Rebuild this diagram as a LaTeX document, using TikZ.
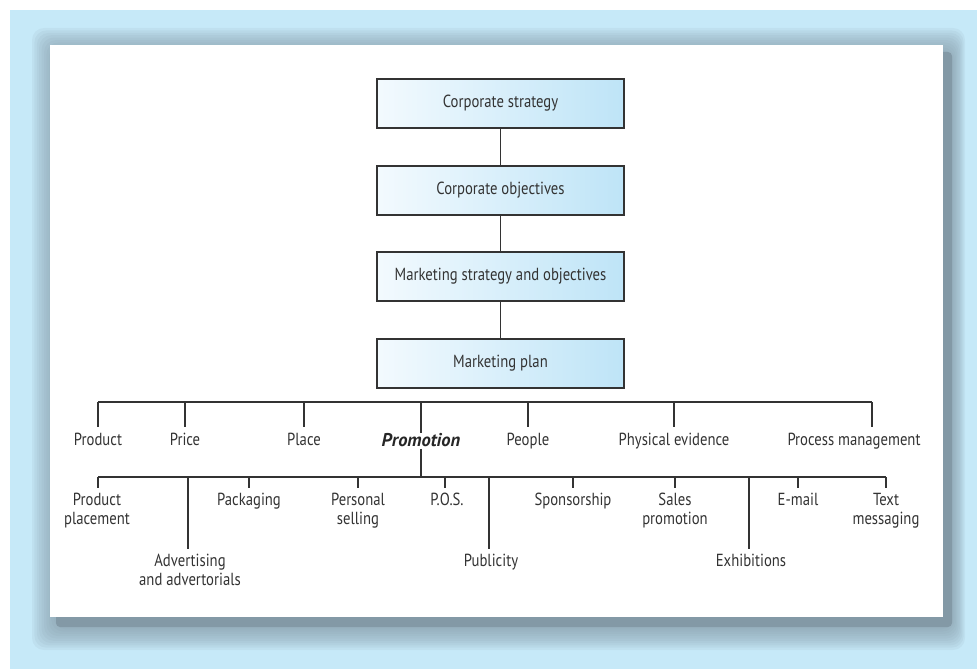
\documentclass[tikz,border=0pt]{standalone}
\usepackage{fontspec}
\setmainfont[FakeStretch=0.84]{PT Sans}
\newfontfamily\emphfont{PT Sans}
\definecolor{bgblue}{HTML}{C6E9F8}
\definecolor{shadowc}{HTML}{8399A6}
\definecolor{ink}{HTML}{333333}
\definecolor{boxleft}{HTML}{F3FAFE}
\definecolor{boxright}{HTML}{BEE4F7}

\begin{document}
\begin{tikzpicture}[x=1pt,y=-1pt,
  txt/.style={font=\fontsize{17.5}{19}\selectfont},
  every node/.style={text=ink, txt},
  stepbox/.style={draw=ink, line width=1.1pt, minimum width=247pt,
    minimum height=49pt, inner sep=0pt, left color=boxleft, right color=boxright},
  term/.style={inner sep=0pt, anchor=north, align=center},
  wire/.style={draw=ink, line width=1.1pt}]

% canvas and framed panel with its soft shadow
\useasboundingbox (0,0) rectangle (977,669);
\fill[bgblue] (10,10) rectangle (977,669);
\foreach \k in {1,...,10}
  \fill[shadowc, fill opacity=0.10, rounded corners=12pt]
    (56-2.4*\k, 52-2.4*\k) rectangle (952+1.3*\k, 627+2.3*\k);
\fill[shadowc, rounded corners=4pt] (56,52) rectangle (952,627);
\fill[white] (50,45) rectangle (943,617);

% planning hierarchy
\node[stepbox] (cs) at (500.5,103.5) {Corporate strategy};
\node[stepbox] (co) at (500.5,190.5) {Corporate objectives};
\node[stepbox] (ms) at (500.5,276.5) {Marketing strategy and objectives};
\node[stepbox] (mp) at (500.5,363.5) {Marketing plan};
\draw[wire] (cs) -- (co);
\draw[wire] (co) -- (ms);
\draw[wire] (ms) -- (mp);

% the marketing mix
\coordinate (t1) at (98,402);
\coordinate (t2) at (185,402);
\coordinate (t3) at (304,402);
\coordinate (t4) at (421,402);
\coordinate (t5) at (528,402);
\coordinate (t6) at (674,402);
\coordinate (t7) at (872,402);
\draw[wire] (t1) -- (t7);

\node[term] (product) at (98,433) {Product};
\node[term] (price) at (185,433) {Price};
\node[term] (place) at (304,433) {Place};
\node[term, font={\emphfont\fontsize{18.5}{19}\selectfont\bfseries\itshape}, text=black!85] (promo) at (421,433) {Promotion};
\node[term] (people) at (528,433) {People};
\node[term] (phys) at (674,433) {Physical evidence};
\node[term] (proc) at (854,433) {Process management};

\foreach \t/\n in {t1/product, t2/price, t3/place, t5/people, t6/phys, t7/proc}
  \draw[wire, shorten >=6pt] (\t) -- (\t |- \n.north);
\draw[wire] (t4) -- (promo.north);

% the promotional mix
\coordinate (s1) at (98,477);
\coordinate (s2) at (188,477);
\coordinate (s3) at (249,477);
\coordinate (s4) at (358,477);
\coordinate (sp) at (421,477);
\coordinate (s5) at (445,477);
\coordinate (s6) at (489,477);
\coordinate (s7) at (573,477);
\coordinate (s8) at (675,477);
\coordinate (s9) at (749,477);
\coordinate (s10) at (798,477);
\coordinate (s11) at (886,477);
\draw[wire] (s1) -- (s11);
\draw[wire, shorten <=2pt] (promo.south) -- (sp);

\node[term] (pp) at (97,493) {Product\\placement};
\node[term] (adv) at (190,554) {Advertising\\and advertorials};
\node[term] (pack) at (249,493) {Packaging};
\node[term] (pers) at (358,493) {Personal\\selling};
\node[term] (pos) at (447,493) {P.O.S.};
\node[term] (pub) at (491,554) {Publicity};
\node[term] (spons) at (573,493) {Sponsorship};
\node[term] (sales) at (675,493) {Sales\\promotion};
\node[term] (exh) at (751,554) {Exhibitions};
\node[term] (mail) at (798,493) {E-mail};
\node[term] (sms) at (886,493) {Text\\messaging};

\foreach \s/\n in {s1/pp, s2/adv, s3/pack, s4/pers, s5/pos, s6/pub,
                   s7/spons, s8/sales, s9/exh, s10/mail, s11/sms}
  \draw[wire, shorten >=5pt] (\s) -- (\s |- \n.north);
\end{tikzpicture}
\end{document}
